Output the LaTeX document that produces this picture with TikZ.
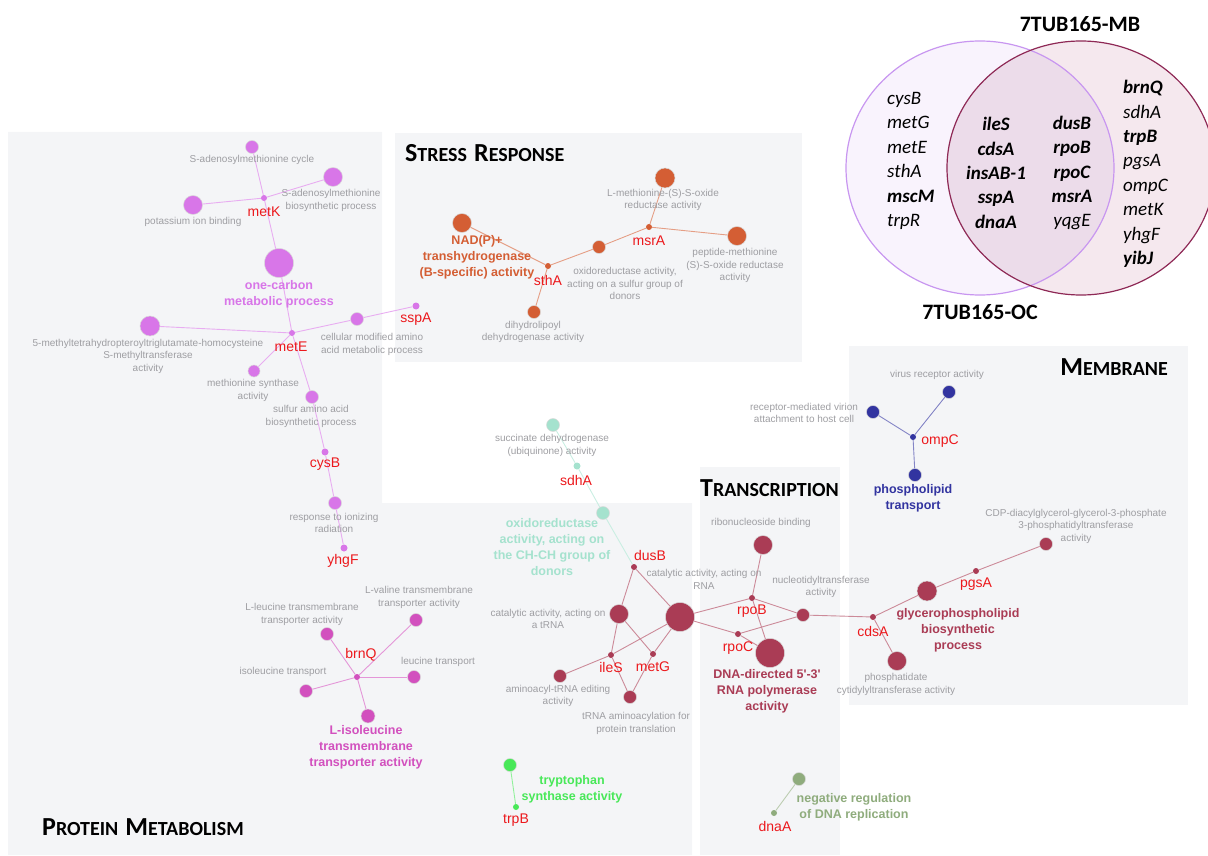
\documentclass[tikz,border=0pt]{standalone}
\usepackage{fontspec}
\setmainfont{Liberation Sans}
\newfontfamily\calib{Carlito}
\usepackage{xcolor}
\usepackage{tikz}

\definecolor{panel}{RGB}{244,245,247}
\definecolor{lab}{RGB}{158,158,162}
\definecolor{gred}{RGB}{236,24,28}
\definecolor{purp}{RGB}{216,118,232}
\definecolor{magn}{RGB}{210,80,190}
\definecolor{orng}{RGB}{212,94,52}
\definecolor{mint}{RGB}{165,226,206}
\definecolor{marn}{RGB}{170,60,85}
\definecolor{navyb}{RGB}{50,52,160}
\definecolor{grn}{RGB}{72,232,88}
\definecolor{sage}{RGB}{143,172,125}
\definecolor{ocline}{RGB}{200,150,240}
\definecolor{ocfill}{RGB}{249,243,253}
\definecolor{mbline}{RGB}{142,40,85}
\definecolor{mbfill}{RGB}{245,232,238}
\definecolor{both}{RGB}{236,220,234}

\tikzset{
  term/.style={circle, fill=#1, draw=black!15, line width=0.5pt, inner sep=0pt},
  hub/.style={circle, fill=#1, inner sep=0pt, minimum size=6pt},
  big/.style={minimum size=29pt},
  mid/.style={minimum size=19pt},
  sml/.style={minimum size=13pt},
  link/.style={draw=#1!60!white, line width=0.9pt},
  golab/.style={text=lab, font=\fontsize{10}{12.5}\selectfont, align=center, inner sep=0pt},
  gene/.style={text=gred, font=\fontsize{14}{16}\selectfont, inner sep=0pt},
  key/.style={text=#1, font=\bfseries\fontsize{12.5}{16}\selectfont, align=center, inner sep=0pt},
  sect/.style={font=\calib\bfseries, inner sep=0pt},
  venn/.style={font=\calib\itshape\fontsize{19}{24.4}\selectfont, inner sep=0pt},
}
% one word in small capitals
\newcommand\scword[2]{{\fontsize{26}{26}\selectfont #1}{\fontsize{20}{20}\selectfont #2}}

\begin{document}
\begin{tikzpicture}[x=1pt,y=-1pt]
\useasboundingbox (0,0) rectangle (1208,856);
%
% group panels
\fill[panel] (8,132) -- (382,132) -- (382,503) -- (692,503) -- (692,855) -- (8,855) -- cycle;
\fill[panel] (395,133) rectangle (802,362);
\fill[panel] (700,467) rectangle (840,855);
\fill[panel] (849,346) rectangle (1188,705);
%
\node[sect, anchor=base west] (tStress) at (405,162) {\scword{S}{TRESS}\hspace{7pt}\scword{R}{ESPONSE}};
\node[sect, anchor=base west] (tProt) at (42,835) {\scword{P}{ROTEIN}\hspace{7pt}\scword{M}{ETABOLISM}};
\node[sect, anchor=base east] (tMemb) at (1168,375) {\scword{M}{EMBRANE}};
\node[sect, anchor=base west] (tTrans) at (700,496) {\scword{T}{RANSCRIPTION}};
%
% venn diagram
\fill[ocfill] (980,168) ellipse [x radius=134pt, y radius=127pt];
\fill[mbfill] (1081,168) ellipse [x radius=134pt, y radius=127pt];
\begin{scope}
  \clip (980,168) ellipse [x radius=134pt, y radius=127pt];
  \fill[both] (1081,168) ellipse [x radius=134pt, y radius=127pt];
\end{scope}
\draw[ocline, line width=1.2pt] (980,168) ellipse [x radius=134pt, y radius=127pt];
\draw[mbline, line width=1.2pt] (1081,168) ellipse [x radius=134pt, y radius=127pt];
\node[sect, font=\calib\bfseries\fontsize{22}{22}\selectfont] (mbTitle) at (1080,24) {7TUB165-MB};
\node[sect, font=\calib\bfseries\fontsize{22}{22}\selectfont] (ocTitle) at (980,312) {7TUB165-OC};
\node[venn, align=left, anchor=west] (ocOnly) at (887,161)
  {cysB\\metG\\metE\\sthA\\\textbf{mscM}\\trpR};
\node[venn, align=center] (bothA) at (996,173)
  {\textbf{ileS}\\\textbf{cdsA}\\\textbf{insAB-1}\\\textbf{sspA}\\\textbf{dnaA}};
\node[venn, align=center] (bothB) at (1072,173)
  {\textbf{dusB}\\\textbf{rpoB}\\\textbf{rpoC}\\\textbf{msrA}\\yqgE};
\node[venn, align=left, anchor=west] (mbOnly) at (1123,174)
  {\textbf{brnQ}\\sdhA\\\textbf{trpB}\\pgsA\\ompC\\metK\\yhgF\\\textbf{yibJ}};
%
% methionine / one-carbon cluster
\node[hub=purp] (metK) at (264,198) {};
\node[term=purp, sml] (samCyc) at (252,147) {};
\node[term=purp, mid] (samBio) at (333,177) {};
\node[term=purp, mid] (potas) at (193,205) {};
\node[term=purp, big] (oneC) at (279,263) {};
\node[hub=purp] (metE) at (292,333) {};
\node[term=purp, minimum size=20pt] (mthf) at (150,326) {};
\node[term=purp, sml] (cellMod) at (357,319) {};
\node[hub=purp, minimum size=7pt] (sspA) at (416,306) {};
\node[term=purp, minimum size=12pt] (metSyn) at (254,371) {};
\node[term=purp, sml] (sulfur) at (312,397) {};
\node[hub=purp, minimum size=7pt] (cysB) at (325,452) {};
\node[term=purp, sml] (ionRad) at (335,503) {};
\node[hub=purp, minimum size=7pt] (yhgF) at (344,548) {};
%
\path[link=purp]
(metK) edge (samCyc) edge (samBio) edge (potas) edge (oneC)
(oneC) edge (metE)
(metE) edge (mthf) edge (cellMod) edge (metSyn) edge (sulfur)
(cellMod) edge (sspA)
(sulfur) edge (cysB)
(cysB) edge (ionRad)
(ionRad) edge (yhgF);
%
\node[golab] (lSamCyc) at (252,160) {S-adenosylmethionine cycle};
\node[golab] (lSamBio) at (331,200.5) {S-adenosylmethionine\\biosynthetic process};
\node[golab] (lPotas) at (193,222) {potassium ion binding};
\node[gene] (gMetK) at (264,212) {metK};
\node[key=purp] (lOneC) at (279,294) {one-carbon\\metabolic process};
\node[golab] (lMthf) at (148,356) {5-methyltetrahydropteroyltriglutamate-homocysteine\\S-methyltransferase\\activity};
\node[gene] (gMetE) at (291,347) {metE};
\node[golab] (lCellMod) at (372,344.5) {cellular modified amino\\acid metabolic process};
\node[gene] (gSspA) at (416,319) {sspA};
\node[golab] (lMetSyn) at (253,390.5) {methionine synthase\\activity};
\node[golab] (lSulfur) at (311,416.5) {sulfur amino acid\\biosynthetic process};
\node[gene] (gCysB) at (325,464) {cysB};
\node[golab] (lIonRad) at (334,523) {response to ionizing\\radiation};
\node[gene] (gYhgF) at (343,561) {yhgF};
%
% amino acid transport
\node[hub=magn] (brnQ) at (357,677) {};
\node[term=magn, sml] (leuTm) at (327,634) {};
\node[term=magn, sml] (valTm) at (416,620) {};
\node[term=magn, sml] (leuTr) at (414,677) {};
\node[term=magn, sml] (ileTr) at (306,691) {};
\node[term=magn, minimum size=14pt] (ileTm) at (368,716) {};
\path[link=magn]
(brnQ) edge (leuTm) edge (valTm) edge (leuTr) edge (ileTr) edge (ileTm);
\node[golab] (lLeuTm) at (302,614.5) {L-leucine transmembrane\\transporter activity};
\node[golab] (lValTm) at (419,597.5) {L-valine transmembrane\\transporter activity};
\node[golab] (lLeuTr) at (438,662) {leucine transport};
\node[golab] (lIleTr) at (283,672) {isoleucine transport};
\node[gene] (gBrnQ) at (361,655) {brnQ};
\node[key=magn] (lIleTm) at (366,747) {L-isoleucine\\transmembrane\\transporter activity};
%
% stress response
\node[hub=orng] (sthA) at (548,266) {};
\node[term=orng, mid] (nadp) at (462,223) {};
\node[term=orng, sml] (dihyd) at (534,312) {};
\node[term=orng, sml] (oxS) at (599,247) {};
\node[hub=orng] (msrA) at (649,227) {};
\node[term=orng, minimum size=20pt] (metSO) at (665,178) {};
\node[term=orng, mid] (pepMet) at (737,236) {};
\path[link=orng]
(sthA) edge (nadp) edge (dihyd) edge (oxS)
(oxS) edge (msrA)
(msrA) edge (metSO) edge (pepMet);
\node[key=orng] (lNadp) at (477,257) {NAD(P)+\\transhydrogenase\\(B-specific) activity};
\node[gene] (gSthA) at (548,280) {sthA};
\node[golab] (lDihyd) at (533,332) {dihydrolipoyl\\dehydrogenase activity};
\node[golab] (lOxS) at (625,283.5) {oxidoreductase activity,\\acting on a sulfur group of\\donors};
\node[gene] (gMsrA) at (649,241) {msrA};
\node[golab] (lMetSO) at (663,200) {L-methionine-(S)-S-oxide\\reductase activity};
\node[golab] (lPepMet) at (735,265.5) {peptide-methionine\\(S)-S-oxide reductase\\activity};
%
% succinate dehydrogenase
\node[term=mint, sml] (succ) at (553,425) {};
\node[hub=mint, minimum size=7pt] (sdhA) at (577,466) {};
\node[term=mint, sml] (chch) at (603,513) {};
\node[hub=marn] (dusB) at (634,567) {};
\path[link=mint]
(succ) edge (sdhA)
(sdhA) edge (chch)
(chch) edge (dusB);
\node[golab] (lSucc) at (552,445.5) {succinate dehydrogenase\\(ubiquinone) activity};
\node[gene] (gSdhA) at (576,480) {sdhA};
\node[key=mint] (lChch) at (552,547) {oxidoreductase\\activity, acting on\\the CH-CH group of\\donors};
%
% tRNA, RNA polymerase and phospholipids
\node[term=marn, mid] (cattRNA) at (619,614) {};
\node[term=marn, big] (catRNA) at (680,617) {};
\node[hub=marn] (ileS) at (611,655) {};
\node[hub=marn] (metG) at (653,654) {};
\node[term=marn, sml] (aminoEd) at (560,676) {};
\node[term=marn, sml] (tRNAac) at (630,697) {};
\node[hub=marn] (rpoB) at (752,598) {};
\node[hub=marn] (rpoC) at (738,634) {};
\node[term=marn, mid] (ribo) at (763,545) {};
\node[term=marn, sml] (nucT) at (803,615) {};
\node[term=marn, big] (dnaDir) at (770,653) {};
\node[hub=marn] (cdsA) at (873,617) {};
\node[term=marn, minimum size=20pt] (glyc) at (927,591) {};
\node[term=marn, mid] (phosd) at (897,661) {};
\node[hub=marn] (pgsA) at (976,571) {};
\node[term=marn, sml] (cdp) at (1046,544) {};
\path[link=marn]
(dusB) edge (cattRNA) edge (catRNA)
(cattRNA) edge (ileS) edge (metG)
(catRNA) edge (ileS) edge (metG) edge (rpoB) edge (rpoC)
(ileS) edge (aminoEd) edge (tRNAac)
(metG) edge (tRNAac)
(rpoB) edge (ribo) edge (nucT) edge (dnaDir)
(rpoC) edge (nucT) edge (dnaDir)
(nucT) edge (cdsA)
(cdsA) edge (glyc) edge (phosd)
(glyc) edge (pgsA)
(pgsA) edge (cdp);
\node[gene] (gDusB) at (650,555) {dusB};
\node[golab] (lCatRNA) at (704,579.5) {catalytic activity, acting on\\RNA};
\node[golab] (lCattRNA) at (548,619) {catalytic activity, acting on\\a tRNA};
\node[gene] (gIleS) at (611,667) {ileS};
\node[gene] (gMetG) at (653,667) {metG};
\node[golab] (lAminoEd) at (558,696) {aminoacyl-tRNA editing\\activity};
\node[golab] (lTRNAac) at (636,723.5) {tRNA aminoacylation for\\protein translation};
\node[golab] (lRibo) at (761,523) {ribonucleoside binding};
\node[gene] (gRpoB) at (752,611) {rpoB};
\node[golab] (lNucT) at (821,587) {nucleotidyltransferase\\activity};
\node[gene] (gRpoC) at (738,648) {rpoC};
\node[key=marn] (lDnaDir) at (767,691.5) {DNA-directed 5\textquotesingle-3\textquotesingle\\RNA polymerase\\activity};
\node[gene] (gCdsA) at (873,631) {cdsA};
\node[key=marn] (lGlyc) at (958,630) {glycerophospholipid\\biosynthetic\\process};
\node[golab] (lPhosd) at (896,684.5) {phosphatidate\\cytidylyltransferase activity};
\node[gene] (gPgsA) at (976,584) {pgsA};
\node[golab] (lCdp) at (1076,526) {CDP-diacylglycerol-glycerol-3-phosphate\\3-phosphatidyltransferase\\activity};
%
% outer membrane porin
\node[hub=navyb] (ompC) at (913,437) {};
\node[term=navyb, sml] (virus) at (949,392) {};
\node[term=navyb, sml] (virion) at (873,412) {};
\node[term=navyb, sml] (phTr) at (915,475) {};
\path[link=navyb]
(ompC) edge (virus) edge (virion) edge (phTr);
\node[golab] (lVirus) at (937,375) {virus receptor activity};
\node[golab] (lVirion) at (804,413) {receptor-mediated virion\\attachment to host cell};
\node[gene] (gOmpC) at (940,441) {ompC};
\node[key=navyb] (lPhTr) at (913,498.5) {phospholipid\\transport};
%
% tryptophan and replication
\node[term=grn, sml] (tsyn) at (510,765) {};
\node[hub=grn] (trpB) at (516,807) {};
\node[term=sage, sml] (negReg) at (799,779) {};
\node[hub=sage] (dnaA) at (774,813) {};
\path[link=grn] (tsyn) edge (trpB);
\path[link=sage] (negReg) edge (dnaA);
\node[key=grn] (lTsyn) at (572,789) {tryptophan\\synthase activity};
\node[gene] (gTrpB) at (516,820) {trpB};
\node[key=sage] (lNegReg) at (854,807.5) {negative regulation\\of DNA replication};
\node[gene] (gDnaA) at (775,826) {dnaA};
\end{tikzpicture}
\end{document}
